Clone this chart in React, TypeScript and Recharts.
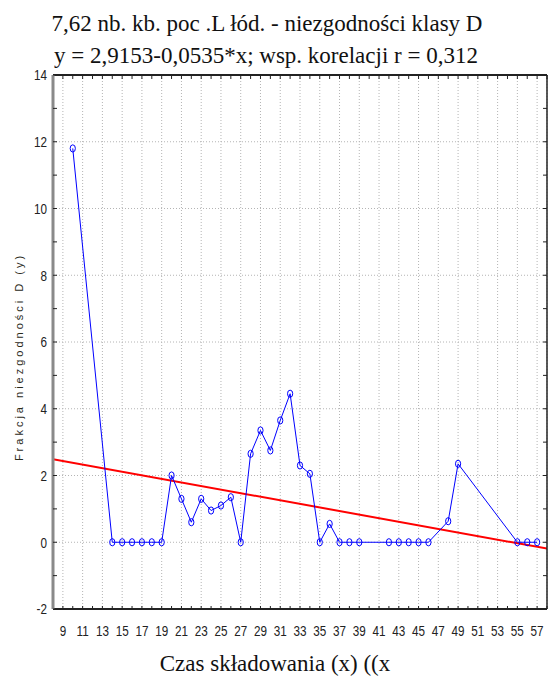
import React from 'react';
import { ComposedChart, Line, XAxis, YAxis, CartesianGrid } from 'recharts';

// Storage time (x) and nonconformity fraction D (y)
const xValues = [10, 14, 15, 16, 17, 18, 19, 20, 21, 22, 23, 24, 25, 26, 27, 28, 29, 30, 31, 32, 33, 34, 35, 36, 37, 38, 39, 42, 43, 44, 45, 46, 48, 49, 55, 56, 57];
const yValues = [11.8, 0, 0, 0, 0, 0, 0, 2.0, 1.3, 0.6, 1.3, 0.95, 1.1, 1.35, 0, 2.65, 3.35, 2.75, 3.65, 4.45, 2.3, 2.05, 0, 0.55, 0, 0, 0, 0, 0, 0, 0, 0, 0.63, 2.35, 0, 0, 0];

// Regression line end points (y = 2,9153-0,0535*x)
const fitX = [8, 58];
const fitY = [2.49, -0.19];

// Tick labels
const xTicks = [9, 11, 13, 15, 17, 19, 21, 23, 25, 27, 29, 31, 33, 35, 37, 39, 41, 43, 45, 47, 49, 51, 53, 55, 57];
const yTicks = [-2, 0, 2, 4, 6, 8, 10, 12, 14];

const xDomain = [8, 58];
const yDomain = [-2, 14];

const titleLine1 = '7,62 nb. kb. poc .L łód. - niezgodności klasy D';
const titleLine2 = 'y = 2,9153-0,0535*x; wsp. korelacji r = 0,312';
const xTitle = 'Czas składowania (x) ((x';
const yTitle = 'Frakcja niezgodności D (y)';

const points = xValues.map((x, i) => ({ x, y: yValues[i] }));
const fitPoints = fitX.map((x, i) => ({ x, y: fitY[i] }));

// minor (unlabelled) tick positions: every integer
const minorX: number[] = [];
for (let v = xDomain[0]; v <= xDomain[1]; v++) minorX.push(v);
const minorY: number[] = [];
for (let v = yDomain[0]; v <= yDomain[1]; v++) minorY.push(v);

const TICK_FAMILY = '"Liberation Sans", Arial, sans-serif';
const blank = () => '';

const XTick = (props: any) => {
  const { x, y, payload } = props;
  if (!xTicks.includes(payload.value)) return <g />;
  return (
    <g transform={`translate(${x},${y})`}>
      <text transform="scale(0.78,1)" x={0} y={0} dy="0.72em" textAnchor="middle" fontSize={15} fontFamily={TICK_FAMILY} fill="#222">
        {payload.value}
      </text>
    </g>
  );
};

const YTick = (props: any) => {
  const { x, y, payload } = props;
  if (!yTicks.includes(payload.value)) return <g />;
  return (
    <g transform={`translate(${x},${y})`}>
      <text transform="scale(0.78,1)" x={0} y={0} dy="0.36em" textAnchor="end" fontSize={15} fontFamily={TICK_FAMILY} fill="#222">
        {payload.value}
      </text>
    </g>
  );
};

const renderDot = (props: any) => {
  const { cx, cy, index } = props;
  return (
    <ellipse key={`d-${index}`} cx={cx} cy={cy} rx={2.6} ry={3.6} fill="none" stroke="#0000ff" strokeWidth={1} />
  );
};

export default function App() {
  return (
    <div style={{ position: 'absolute', left: 0, top: 0, width: 548, height: 679, background: '#fff' }}>
      <ComposedChart width={548} height={679} margin={{ top: 74, right: 0, left: 0, bottom: 0 }}>
        <CartesianGrid strokeDasharray="1 2" stroke="#b4b4b4" xAxisId="grid" yAxisId="grid" />
        <XAxis
          dataKey="x"
          type="number"
          domain={xDomain}
          allowDataOverflow
          ticks={minorX}
          interval={0}
          orientation="bottom"
          height={70}
          tickSize={-3}
          tickMargin={19}
          tickLine={{ stroke: '#222' }}
          axisLine={{ stroke: '#222', strokeWidth: 2 }}
          tick={<XTick />}
        />
        <XAxis
          xAxisId="top"
          dataKey="x"
          type="number"
          domain={xDomain}
          allowDataOverflow
          ticks={minorX}
          interval={0}
          orientation="top"
          height={1}
          tickFormatter={blank}
          tickSize={-4}
          tickLine={{ stroke: '#222' }}
          axisLine={{ stroke: '#222', strokeWidth: 2 }}
        />
        <XAxis
          xAxisId="grid"
          dataKey="x"
          type="number"
          domain={xDomain}
          allowDataOverflow
          ticks={xTicks}
          interval={0}
          hide
        />
        <YAxis
          type="number"
          domain={yDomain}
          allowDataOverflow
          ticks={minorY}
          interval={0}
          orientation="left"
          width={53}
          tickSize={-4}
          tickMargin={10}
          tickLine={{ stroke: '#222' }}
          axisLine={{ stroke: '#8a8a8a', strokeWidth: 3 }}
          tick={<YTick />}
        />
        <YAxis
          yAxisId="right"
          type="number"
          domain={yDomain}
          allowDataOverflow
          ticks={minorY}
          interval={0}
          orientation="right"
          width={1}
          tickFormatter={blank}
          tickSize={-4}
          tickLine={{ stroke: '#222' }}
          axisLine={{ stroke: '#222', strokeWidth: 1.5 }}
        />
        <YAxis
          yAxisId="grid"
          type="number"
          domain={yDomain}
          allowDataOverflow
          ticks={yTicks}
          interval={0}
          hide
        />
        {/* invisible series that bind the frame and grid axes */}
        <Line
          data={fitPoints}
          dataKey="y"
          xAxisId="top"
          yAxisId="right"
          stroke="none"
          dot={false}
          activeDot={false}
          legendType="none"
          isAnimationActive={false}
        />
        <Line
          data={fitPoints}
          dataKey="y"
          xAxisId="grid"
          yAxisId="grid"
          stroke="none"
          dot={false}
          activeDot={false}
          legendType="none"
          isAnimationActive={false}
        />
        <Line
          data={fitPoints}
          dataKey="y"
          type="linear"
          stroke="#ff0000"
          strokeWidth={2}
          dot={false}
          activeDot={false}
          isAnimationActive={false}
        />
        <Line
          data={points}
          dataKey="y"
          type="linear"
          stroke="#0000ff"
          strokeWidth={1}
          dot={renderDot}
          activeDot={false}
          isAnimationActive={false}
        />
      </ComposedChart>
      <svg
        width={548}
        height={679}
        style={{ position: 'absolute', left: 0, top: 0, pointerEvents: 'none' }}
      >
        <g fontFamily='"Liberation Serif", "Times New Roman", serif' fill="#111">
          <text x={267} y={31} textAnchor="middle" fontSize={23}>{titleLine1}</text>
          <text x={266} y={63} textAnchor="middle" fontSize={23}>{titleLine2}</text>
          <text x={275} y={671} textAnchor="middle" fontSize={23}>{xTitle}</text>
        </g>
        <text
          x={0}
          y={0}
          transform="translate(23 357) rotate(-90)"
          textAnchor="middle"
          fontSize={11}
          letterSpacing={3}
          fontFamily='"Liberation Sans", Arial, sans-serif'
          fill="#2a2a1a"
        >
          {yTitle}
        </text>
      </svg>
    </div>
  );
}
